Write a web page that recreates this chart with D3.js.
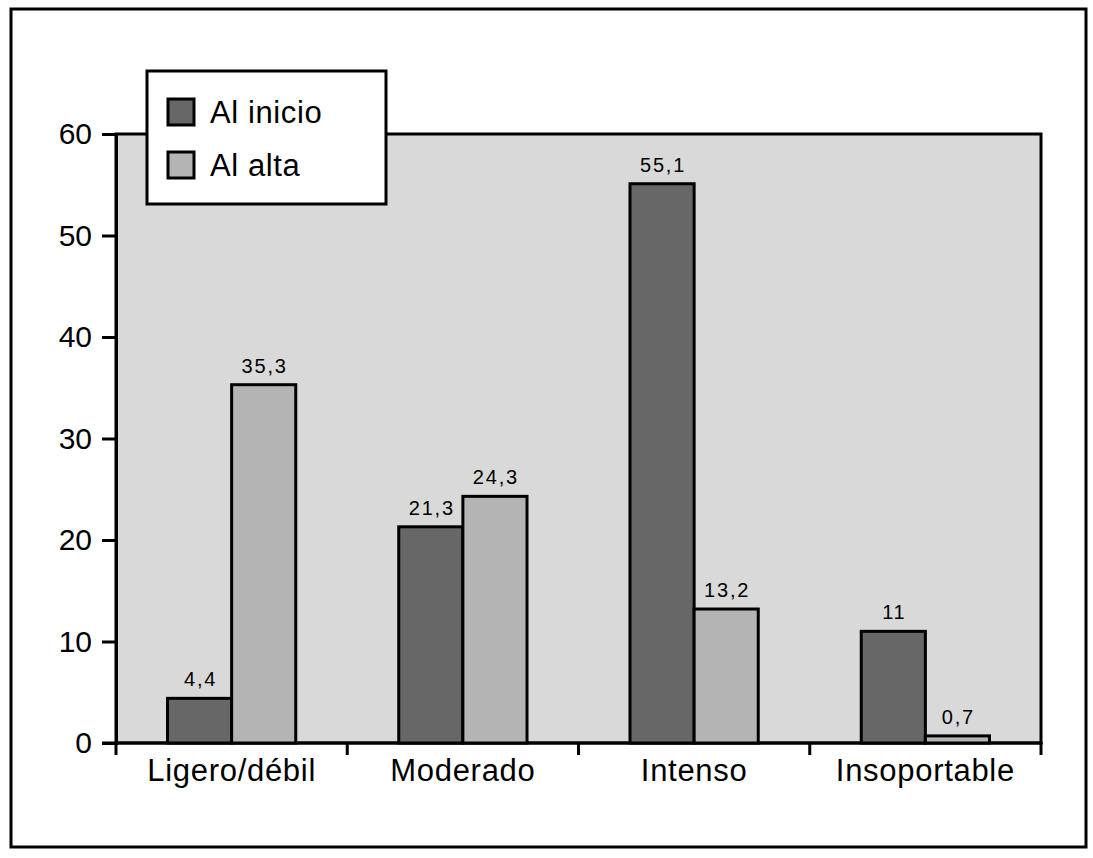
<!DOCTYPE html>
<html>
<head>
<meta charset="utf-8">
<script src="https://d3js.org/d3.v7.min.js"></script>
<style>
  body { margin: 0; background: #fff; }
  text { font-family: "Liberation Sans", Arial, sans-serif; fill: #000; }
</style>
</head>
<body>
<div id="main"></div>
<script>
const categories = ["Ligero/débil", "Moderado", "Intenso", "Insoportable"];
const seriesNames = ["Al inicio", "Al alta"];
const inicioValues = [4.4, 21.3, 55.1, 11];
const altaValues = [35.3, 24.3, 13.2, 0.7];
const yTicks = [0, 10, 20, 30, 40, 50, 60];

const ctx = {
  W: 1093, H: 858,
  left: 116, right: 1041, top: 134, bottom: 743,
  colors: ["#676767", "#b4b4b4"],
  plotBg: "#d9d9d9",
};

function fmt(v) {
  return String(v).replace(".", ",");
}

function createViz() {
  const svg = d3.select("#main").append("svg")
    .attr("width", ctx.W).attr("height", ctx.H);

  // outer frame
  svg.append("rect")
    .attr("x", 11).attr("y", 9)
    .attr("width", 1075).attr("height", 838)
    .attr("fill", "#fff").attr("stroke", "#000").attr("stroke-width", 3);

  const x = d3.scaleBand().domain(categories).range([ctx.left, ctx.right]).paddingInner(0).paddingOuter(0);
  const y = d3.scaleLinear().domain([0, 60]).range([ctx.bottom, ctx.top]);
  const inner = d3.scaleBand().domain(seriesNames).range([51.5, x.bandwidth() - 51.5]);

  // plot area
  svg.append("rect")
    .attr("x", ctx.left).attr("y", ctx.top)
    .attr("width", ctx.right - ctx.left).attr("height", ctx.bottom - ctx.top)
    .attr("fill", ctx.plotBg).attr("stroke", "#000").attr("stroke-width", 3);

  // y axis
  const yAxis = svg.append("g")
    .attr("transform", `translate(${ctx.left},0)`)
    .call(d3.axisLeft(y).tickValues(yTicks).tickSize(14).tickPadding(10));
  yAxis.select(".domain").attr("stroke-width", 3);
  yAxis.selectAll(".tick line").attr("stroke-width", 3);
  yAxis.selectAll(".tick text")
    .attr("font-size", 30)
    .style("font-family", "Liberation Sans, Arial, sans-serif");

  // x axis ticks at band edges
  const edges = categories.map(c => x(c)).concat([ctx.right]);
  svg.append("g").selectAll("line").data(edges).enter().append("line")
    .attr("x1", d => d).attr("x2", d => d)
    .attr("y1", ctx.bottom).attr("y2", ctx.bottom + 12)
    .attr("stroke", "#000").attr("stroke-width", 3);
  svg.append("line")
    .attr("x1", ctx.left - 14).attr("x2", ctx.right + 1.5)
    .attr("y1", ctx.bottom).attr("y2", ctx.bottom)
    .attr("stroke", "#000").attr("stroke-width", 3);

  svg.append("g").selectAll("text").data(categories).enter().append("text")
    .attr("x", d => x(d) + x.bandwidth() / 2)
    .attr("y", 781)
    .attr("text-anchor", "middle")
    .attr("font-size", 31)
    .attr("letter-spacing", 0.7)
    .text(d => d);

  // bars
  const rows = categories.map((c, i) => ({ cat: c, vals: [inicioValues[i], altaValues[i]] }));
  const groups = svg.append("g").selectAll("g").data(rows).enter().append("g")
    .attr("transform", d => `translate(${x(d.cat)},0)`);

  groups.selectAll("rect")
    .data(d => d.vals.map((v, j) => ({ v, s: seriesNames[j], j })))
    .enter().append("rect")
    .attr("x", d => inner(d.s))
    .attr("y", d => y(d.v))
    .attr("width", inner.bandwidth())
    .attr("height", d => ctx.bottom - y(d.v))
    .attr("fill", d => ctx.colors[d.j])
    .attr("stroke", "#000").attr("stroke-width", 3);

  groups.selectAll("text")
    .data(d => d.vals.map((v, j) => ({ v, s: seriesNames[j] })))
    .enter().append("text")
    .attr("x", d => inner(d.s) + inner.bandwidth() / 2 + 1)
    .attr("y", d => y(d.v) - 12)
    .attr("text-anchor", "middle")
    .attr("font-size", 20)
    .attr("letter-spacing", 1.8)
    .text(d => fmt(d.v));

  // legend
  const lg = svg.append("g");
  lg.append("rect")
    .attr("x", 147).attr("y", 71).attr("width", 239).attr("height", 133)
    .attr("fill", "#fff").attr("stroke", "#000").attr("stroke-width", 3);
  seriesNames.forEach((s, i) => {
    lg.append("rect")
      .attr("x", 168).attr("y", 99 + i * 53).attr("width", 26).attr("height", 26)
      .attr("fill", ctx.colors[i]).attr("stroke", "#000").attr("stroke-width", 3);
    lg.append("text")
      .attr("x", 210).attr("y", 123 + i * 53)
      .attr("font-size", 31)
      .attr("letter-spacing", 0.6)
      .text(s);
  });
}

createViz();
</script>
</body>
</html>
